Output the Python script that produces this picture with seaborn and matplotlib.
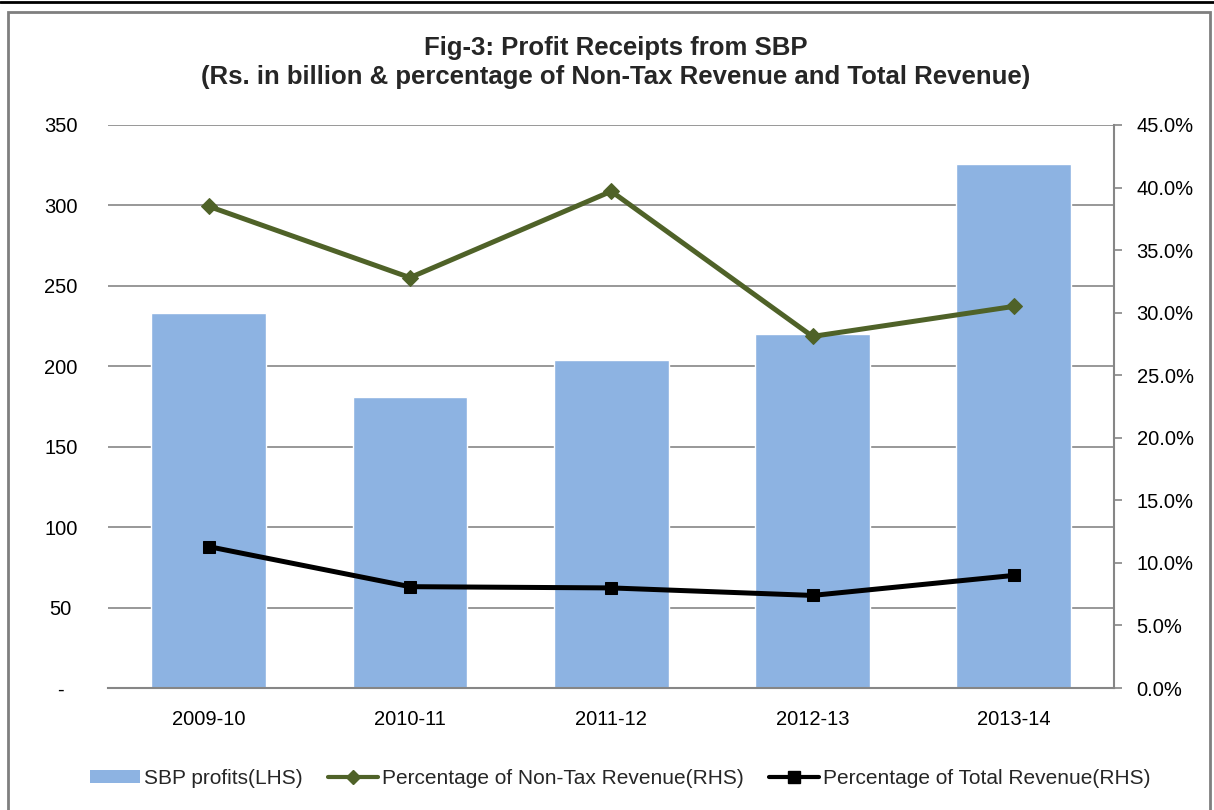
import numpy as np
import pandas as pd
import matplotlib
matplotlib.use("Agg")
import matplotlib.pyplot as plt
import seaborn as sns
from matplotlib.ticker import FuncFormatter, FixedLocator
from matplotlib.lines import Line2D
from matplotlib.patches import Patch, Rectangle

years = ["2009-10", "2010-11", "2011-12", "2012-13", "2013-14"]
sbp_profits = [233, 181, 204, 220, 326]
pct_non_tax = [38.5, 32.8, 39.7, 28.1, 30.5]
pct_total = [11.3, 8.1, 8.0, 7.4, 9.0]

df = pd.DataFrame({"year": years, "profits": sbp_profits,
                   "non_tax": pct_non_tax, "total": pct_total})

sns.set_theme(style="white")
plt.rcParams["font.family"] = ["Liberation Sans", "DejaVu Sans"]

bar_color = "#8DB3E2"
green = "#4F6228"
grid_color = "#868686"
fs = 14.5

fig = plt.figure(figsize=(12.14, 8.10), dpi=100)
ax = fig.add_axes([0.089, 0.1506, 0.829, 0.6951])

sns.barplot(data=df, x="year", y="profits", color=bar_color, width=0.57,
            saturation=1, ax=ax, zorder=2)
ax.set_ylim(0, 350)
ax.set_xlim(-0.5, 4.5)
ax.yaxis.set_major_locator(FixedLocator(np.arange(0, 351, 50)))
ax.yaxis.set_major_formatter(FuncFormatter(lambda v, p: "-" if v == 0 else f"{int(v)}"))
ax.grid(axis="y", color=grid_color, linewidth=1.2, zorder=0)
ax.set_axisbelow(True)
ax.set_xlabel("")
ax.set_ylabel("")
for s in ["left", "top", "right"]:
    ax.spines[s].set_visible(False)
ax.spines["bottom"].set_color(grid_color)
ax.spines["bottom"].set_linewidth(1.5)
ax.tick_params(axis="y", length=0, pad=34, labelsize=fs, colors="black")
ax.tick_params(axis="x", length=0, pad=16, labelsize=fs, colors="black")
for lbl in ax.get_yticklabels():
    lbl.set_horizontalalignment("center")

ax2 = ax.twinx()
ax2.set_ylim(0, 45)
ax2.yaxis.set_major_locator(FixedLocator(np.arange(0, 45.1, 5)))
ax2.yaxis.set_major_formatter(FuncFormatter(lambda v, p: f"{v:.1f}%"))
for s in ["left", "top", "bottom"]:
    ax2.spines[s].set_visible(False)
ax2.spines["right"].set_color(grid_color)
ax2.spines["right"].set_linewidth(1.5)
ax2.tick_params(axis="y", length=6, width=1.2, labelsize=fs, pad=10,
                colors="black")
ax2.tick_params(axis="y", color=grid_color)
ax2.grid(False)

xpos = np.arange(len(years))
sns.lineplot(x=xpos, y=df["non_tax"], ax=ax2, color=green, linewidth=3.6,
             marker="D", markersize=8, markeredgecolor=green, zorder=3)
sns.lineplot(x=xpos, y=df["total"], ax=ax2, color="black", linewidth=3.6,
             marker="s", markersize=9, markeredgecolor="black", zorder=3)
ax2.set_ylabel("")
ax2.set_xlim(-0.5, 4.5)

fig.text(0.507, 0.923, "Fig-3: Profit Receipts from SBP\n(Rs. in billion & percentage of Non-Tax Revenue and Total Revenue)",
         ha="center", va="center", fontsize=18.5, fontweight="bold", linespacing=1.3)

handles = [
    Patch(facecolor=bar_color, edgecolor="none"),
    Line2D([0], [0], color=green, linewidth=3, marker="D", markersize=7),
    Line2D([0], [0], color="black", linewidth=3, marker="s", markersize=8),
]
labels = ["SBP profits(LHS)", "Percentage of Non-Tax Revenue(RHS)",
          "Percentage of Total Revenue(RHS)"]
fig.legend(handles, labels, loc="center", bbox_to_anchor=(0.511, 0.039), ncol=3,
           frameon=False, fontsize=15, handlelength=2.4, handletextpad=0.2,
           columnspacing=1.2, handleheight=0.55)

# outer frame of the chart
fig.add_artist(Rectangle((0.007, -0.01), 0.99, 0.995, transform=fig.transFigure,
                         fill=False, edgecolor="#7F7F7F", linewidth=2))
fig.add_artist(Line2D([0, 1], [0.998, 0.998], transform=fig.transFigure,
                      color="black", linewidth=2))

fig.savefig("out.png", dpi=100)
